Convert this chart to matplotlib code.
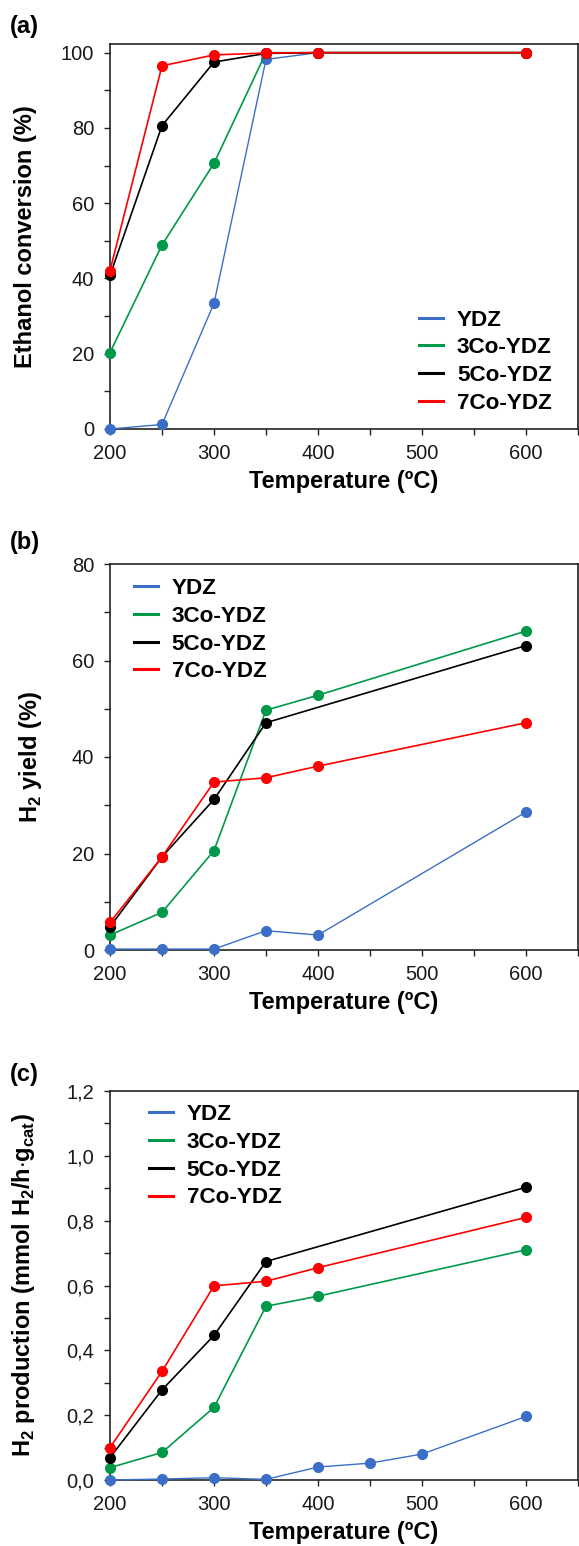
import numpy as np
import matplotlib
matplotlib.use("Agg")
import matplotlib.pyplot as plt
from matplotlib.lines import Line2D
from matplotlib.ticker import MultipleLocator, FuncFormatter

plt.rcParams["font.family"] = ["Liberation Sans", "DejaVu Sans"]
plt.rcParams["mathtext.fontset"] = "custom"
plt.rcParams["mathtext.rm"] = "Liberation Sans"
plt.rcParams["mathtext.bf"] = "Liberation Sans:bold"

SERIES = ["YDZ", "3Co-YDZ", "5Co-YDZ", "7Co-YDZ"]
COLORS = ["#3B6FC7", "#00994A", "#000000", "#FF0000"]

# (a) ethanol conversion (%)
temp_a = [200, 250, 300, 350, 400, 600]
conv_ydz = [0.0, 1.2, 33.4, 98.2, 100.0, 100.0]
conv_3co = [20.3, 48.9, 70.6, 100.0, 100.0, 100.0]
conv_5co = [40.8, 80.6, 97.5, 99.8, 100.0, 100.0]
conv_7co = [42.1, 96.5, 99.4, 99.9, 100.0, 100.0]

# (b) H2 yield (%)
temp_b = [200, 250, 300, 350, 400, 600]
temp_b_5co = [200, 250, 300, 350, 600]
yield_ydz = [0.2, 0.2, 0.2, 4.0, 3.1, 28.6]
yield_3co = [3.1, 7.8, 20.6, 49.7, 52.8, 66.1]
yield_5co = [4.8, 19.3, 31.2, 47.1, 63.1]
yield_7co = [5.7, 19.3, 34.8, 35.7, 38.1, 47.1]

# (c) H2 production (mmol H2/h g_cat)
temp_c_ydz = [200, 250, 300, 350, 400, 450, 500, 600]
temp_c = [200, 250, 300, 350, 400, 600]
temp_c_5co = [200, 250, 300, 350, 600]
prod_ydz = [0.0, 0.003, 0.007, 0.002, 0.040, 0.052, 0.080, 0.196]
prod_3co = [0.038, 0.085, 0.224, 0.536, 0.567, 0.710]
prod_5co = [0.069, 0.278, 0.446, 0.674, 0.903]
prod_7co = [0.100, 0.335, 0.599, 0.613, 0.655, 0.810]

W, H = 579, 1546
fig = plt.figure(figsize=(W / 100, H / 100), dpi=100)


def make_axes(top_px, bottom_px):
    left, right = 110, 578
    return fig.add_axes([left / W, 1 - bottom_px / H, (right - left) / W,
                         (bottom_px - top_px) / H])


def style(ax, ylim, major, minor, fmt=None):
    ax.set_xlim(200, 650)
    ax.set_ylim(*ylim)
    ax.xaxis.set_major_locator(MultipleLocator(100))
    ax.xaxis.set_minor_locator(MultipleLocator(50))
    ax.yaxis.set_major_locator(MultipleLocator(major))
    ax.yaxis.set_minor_locator(MultipleLocator(minor))
    ax.set_xticks([200, 300, 400, 500, 600])
    if fmt:
        ax.yaxis.set_major_formatter(FuncFormatter(fmt))
    ax.tick_params(which="both", direction="out", length=4, width=1.0,
                   color="#222222", labelsize=14.5, labelcolor="#1a1a1a")
    ax.tick_params(axis="y", pad=7.5)
    ax.tick_params(axis="x", pad=6.5)
    for s in ax.spines.values():
        s.set_linewidth(1.2)
        s.set_color("#222222")
    ax.set_xlabel("Temperature (ºC)", fontsize=17, fontweight="bold", labelpad=5)


def draw(ax, xs, ys):
    for x, y, c in zip(xs, ys, COLORS):
        lw = 1.0 if c == COLORS[0] else 1.2
        ax.plot(x, y, color=c, lw=lw, marker="o", ms=7, clip_on=False, zorder=3)


def legend(ax, **kw):
    handles = [Line2D([0], [0], color=c, lw=2.2) for c in COLORS]
    ax.legend(handles, SERIES, frameon=False, handlelength=1.1,
              handletextpad=0.6, labelspacing=0.3,
              prop={"weight": "bold", "size": 16.2}, **kw)


# panel (a)
ax1 = make_axes(44, 429)
draw(ax1, [temp_a] * 4, [conv_ydz, conv_3co, conv_5co, conv_7co])
style(ax1, (0, 102.3), 20, 10)
ax1.set_ylabel("Ethanol conversion (%)", fontsize=17, fontweight="bold")
ax1.yaxis.set_label_coords(-0.156, 0.5)
legend(ax1, loc="lower right", bbox_to_anchor=(0.987, -0.013))
fig.text(10 / W, 1 - 26 / H, "(a)", fontsize=17, fontweight="bold", va="center")

# panel (b)
ax2 = make_axes(564, 950)
draw(ax2, [temp_b, temp_b, temp_b_5co, temp_b],
     [yield_ydz, yield_3co, yield_5co, yield_7co])
style(ax2, (0, 80), 20, 10)
ax2.set_ylabel(r"H$_\mathbf{2}$ yield (%)", fontsize=17, fontweight="bold")
ax2.yaxis.set_label_coords(-0.141, 0.5)
legend(ax2, loc="upper left", bbox_to_anchor=(0.007, 1.016))
fig.text(10 / W, 1 - 543 / H, "(b)", fontsize=17, fontweight="bold", va="center")

# panel (c)
ax3 = make_axes(1091, 1480)
draw(ax3, [temp_c_ydz, temp_c, temp_c_5co, temp_c],
     [prod_ydz, prod_3co, prod_5co, prod_7co])
style(ax3, (0, 1.2), 0.2, 0.1, fmt=lambda v, p: f"{v:.1f}".replace(".", ","))
ax3.set_ylabel(r"H$_\mathbf{2}$ production (mmol H$_\mathbf{2}$/h$\cdot$g$_\mathbf{cat}$)",
               fontsize=17, fontweight="bold")
ax3.yaxis.set_label_coords(-0.156, 0.5)
legend(ax3, loc="upper left", bbox_to_anchor=(0.039, 1.018))
fig.text(10 / W, 1 - 1075 / H, "(c)", fontsize=17, fontweight="bold", va="center")

fig.savefig("out.png", dpi=100)
